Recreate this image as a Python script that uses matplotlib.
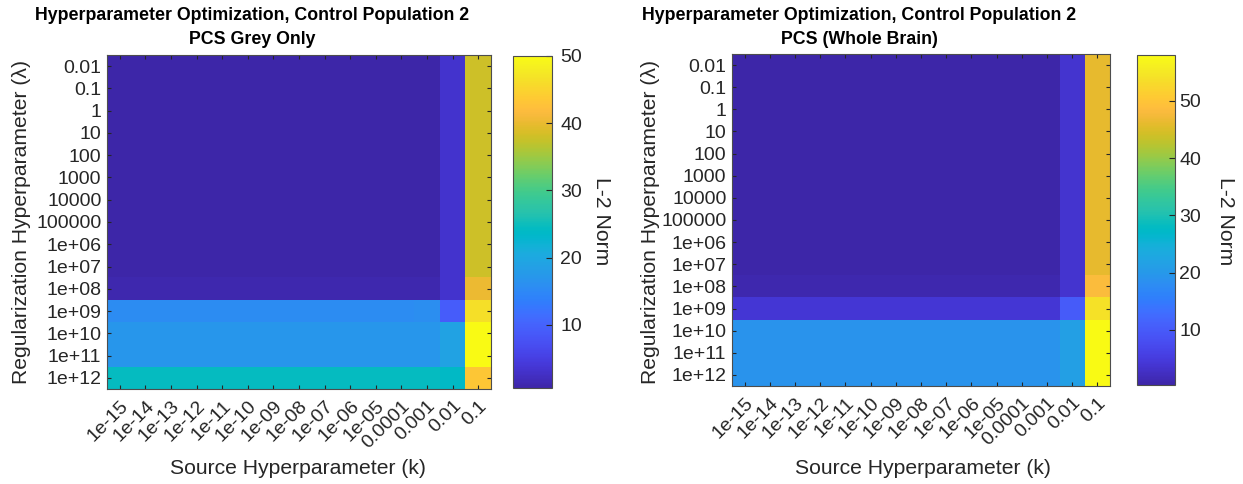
import numpy as np
import matplotlib
matplotlib.use("Agg")
import matplotlib.pyplot as plt
from matplotlib.colors import LinearSegmentedColormap
from matplotlib.transforms import ScaledTranslation

plt.rcParams['font.family'] = ['Liberation Sans', 'DejaVu Sans']

# Parula (64 entries)
parula_rgb = [
    [0.2422, 0.1504, 0.6603], [0.2504, 0.1650, 0.7076], [0.2578, 0.1818, 0.7511],
    [0.2647, 0.1978, 0.7952], [0.2706, 0.2147, 0.8364], [0.2751, 0.2342, 0.8710],
    [0.2783, 0.2559, 0.8991], [0.2803, 0.2782, 0.9221], [0.2813, 0.3006, 0.9414],
    [0.2810, 0.3228, 0.9579], [0.2795, 0.3447, 0.9717], [0.2760, 0.3667, 0.9829],
    [0.2699, 0.3892, 0.9906], [0.2602, 0.4123, 0.9952], [0.2440, 0.4358, 0.9988],
    [0.2206, 0.4603, 0.9973], [0.1963, 0.4847, 0.9892], [0.1834, 0.5074, 0.9798],
    [0.1786, 0.5289, 0.9682], [0.1764, 0.5499, 0.9520], [0.1687, 0.5703, 0.9359],
    [0.1540, 0.5902, 0.9218], [0.1460, 0.6091, 0.9079], [0.1380, 0.6276, 0.8973],
    [0.1248, 0.6459, 0.8883], [0.1113, 0.6635, 0.8763], [0.0952, 0.6798, 0.8598],
    [0.0689, 0.6948, 0.8394], [0.0297, 0.7082, 0.8163], [0.0036, 0.7203, 0.7917],
    [0.0067, 0.7312, 0.7660], [0.0433, 0.7411, 0.7394], [0.0964, 0.7500, 0.7120],
    [0.1408, 0.7584, 0.6842], [0.1717, 0.7670, 0.6554], [0.1938, 0.7758, 0.6251],
    [0.2161, 0.7843, 0.5923], [0.2470, 0.7918, 0.5567], [0.2906, 0.7973, 0.5188],
    [0.3406, 0.8008, 0.4789], [0.3909, 0.8029, 0.4354], [0.4456, 0.8024, 0.3909],
    [0.5044, 0.7993, 0.3480], [0.5616, 0.7942, 0.3045], [0.6174, 0.7876, 0.2612],
    [0.6720, 0.7793, 0.2227], [0.7242, 0.7698, 0.1910], [0.7738, 0.7598, 0.1646],
    [0.8203, 0.7498, 0.1535], [0.8634, 0.7406, 0.1596], [0.9035, 0.7330, 0.1774],
    [0.9393, 0.7288, 0.2100], [0.9728, 0.7298, 0.2394], [0.9956, 0.7434, 0.2371],
    [0.9970, 0.7659, 0.2199], [0.9952, 0.7893, 0.2028], [0.9892, 0.8136, 0.1885],
    [0.9786, 0.8386, 0.1766], [0.9676, 0.8639, 0.1643], [0.9610, 0.8890, 0.1537],
    [0.9597, 0.9135, 0.1423], [0.9628, 0.9373, 0.1265], [0.9691, 0.9606, 0.1064],
    [0.9769, 0.9839, 0.0805],
]
parula = LinearSegmentedColormap.from_list("parula", parula_rgb, N=256)

# Axis categories
k_labels = ["1e-15", "1e-14", "1e-13", "1e-12", "1e-11", "1e-10", "1e-09", "1e-08",
            "1e-07", "1e-06", "1e-05", "0.0001", "0.001", "0.01", "0.1"]
lambda_labels = ["0.01", "0.1", "1", "10", "100", "1000", "10000", "100000",
                 "1e+06", "1e+07", "1e+08", "1e+09", "1e+10", "1e+11", "1e+12"]

# L-2 norm, PCS grey only (rows: lambda, columns: k)
grey_low_lambda = [0.6] * 13 + [3.3, 38.0]
grey_1e08 = [1.0] * 13 + [3.3, 40.2]
grey_1e09 = [15.6] * 12 + [15.9, 9.2, 46.5]
grey_1e10 = [17.1] * 13 + [19.0, 50.0]
grey_1e11 = [17.1] * 13 + [19.0, 50.0]
grey_1e12 = [24.5] * 13 + [23.8, 43.3]

# L-2 norm, PCS whole brain
brain_low_lambda = [0.4] * 13 + [3.6, 46.1]
brain_1e08 = [0.9] * 13 + [3.6, 48.4]
brain_1e09 = [4.1] * 13 + [10.2, 54.0]
brain_1e10 = [19.1] * 13 + [21.4, 58.0]
brain_1e11 = [19.1] * 13 + [21.4, 58.0]
brain_1e12 = [19.1] * 13 + [21.4, 58.0]

grey = np.array([grey_low_lambda] * 10 + [grey_1e08, grey_1e09, grey_1e10, grey_1e11, grey_1e12])
brain = np.array([brain_low_lambda] * 10 + [brain_1e08, brain_1e09, brain_1e10, brain_1e11, brain_1e12])

W, H = 1243, 484
fig = plt.figure(figsize=(W / 100, H / 100), dpi=100)

TXT = "#262626"
EDGE = "#4d4d4d"
TICK_FS = 14
LABEL_FS = 15.2
TITLE_FS = 12.8


def px_axes(x0, y0, x1, y1):
    return fig.add_axes([x0 / W, (H - y1) / H, (x1 - x0) / W, (y1 - y0) / H])


def fig_text(x, y, s, **kw):
    return fig.text(x / W, 1 - y / H, s, **kw)


def draw_panel(ax, cax, data, title_x, subtitle, xlabel_x, ylabel_x, clabel_x, cpad):
    im = ax.imshow(data, cmap=parula, aspect="auto", interpolation="nearest",
                   vmin=data.min(), vmax=data.max())
    ax.set_xticks(np.arange(len(k_labels)))
    ax.set_xticklabels(k_labels, rotation=45, ha="right", va="top",
                       rotation_mode="anchor", fontsize=TICK_FS, color=TXT)
    shift = ScaledTranslation(7 / 100, 0, fig.dpi_scale_trans)
    for lab in ax.get_xticklabels():
        lab.set_transform(lab.get_transform() + shift)
    ax.set_yticks(np.arange(len(lambda_labels)))
    ax.set_yticklabels(lambda_labels, fontsize=TICK_FS, color=TXT)
    ax.tick_params(direction="in", length=3, width=0.8, color=TXT,
                   top=True, right=True)
    ax.tick_params(axis="x", pad=6)
    ax.tick_params(axis="y", pad=4)
    for s in ax.spines.values():
        s.set_color(EDGE)
        s.set_linewidth(0.8)

    fig_text(title_x, 16, "Hyperparameter Optimization, Control Population 2",
             fontsize=TITLE_FS, fontweight="bold", ha="center", va="center")
    fig_text(title_x, 40, subtitle,
             fontsize=TITLE_FS, fontweight="bold", ha="center", va="center")
    fig_text(xlabel_x, 468, "Source Hyperparameter (k)", fontsize=LABEL_FS,
             color=TXT, ha="center", va="center")
    fig_text(ylabel_x, 222, "Regularization Hyperparameter (\u03bb)", fontsize=LABEL_FS,
             color=TXT, ha="center", va="center", rotation=90)

    cb = fig.colorbar(im, cax=cax)
    cb.set_ticks([10, 20, 30, 40, 50])
    cb.ax.tick_params(direction="in", length=4, width=0.8, color=TXT,
                      labelsize=TICK_FS, labelcolor=TXT, pad=cpad)
    cb.outline.set_edgecolor(EDGE)
    cb.outline.set_linewidth(0.8)
    fig_text(clabel_x, 221, "L-2 Norm", fontsize=LABEL_FS, color=TXT,
             ha="center", va="center", rotation=270)


ax1 = px_axes(107, 55, 491, 389)
cax1 = px_axes(513, 56, 552, 388)
ax2 = px_axes(732, 54, 1110, 386)
cax2 = px_axes(1137, 55, 1175, 385)

draw_panel(ax1, cax1, grey, 252, "PCS Grey Only", 298, 22, 601, 6)
draw_panel(ax2, cax2, brain, 859, "PCS (Whole Brain)", 923, 651, 1225, 3)

fig.savefig("out.png", dpi=100, facecolor="white")
